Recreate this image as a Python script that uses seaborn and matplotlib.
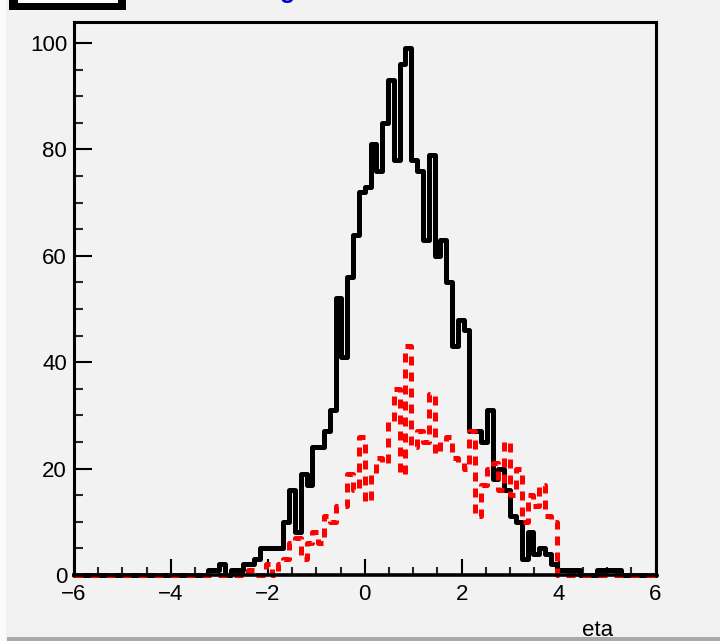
import numpy as np
import pandas as pd
import matplotlib
matplotlib.use("Agg")
import matplotlib.pyplot as plt
from matplotlib.patches import Rectangle
from matplotlib.ticker import MultipleLocator
import seaborn as sns

# ---- data: 100 bins from -6 to 6 ----
bin_edges = np.linspace(-6, 6, 101)
bin_centers = 0.5 * (bin_edges[:-1] + bin_edges[1:])

# black (solid) histogram counts, bins 0..99
black_counts = [0] * 23 + [
    1, 1, 2, 0, 1, 1, 2, 2, 3, 5,          # 23-32
    5, 5, 5, 10, 16, 8, 19, 17, 24, 24,    # 33-42
    27, 31, 52, 41, 56, 64, 72, 73, 81, 76,  # 43-52
    85, 93, 78, 96, 99, 78, 76, 63, 79, 60,  # 53-62
    63, 55, 43, 48, 46, 27, 27, 25, 31, 18,  # 63-72
    20, 16, 11, 10, 3, 8, 4, 5, 4, 2,      # 73-82
    1, 1, 1, 1, 0, 0, 0, 1, 1, 1,          # 83-92
    1, 0, 0, 0, 0, 0, 0,                   # 93-99
]

# red (dashed) histogram counts, bins 0..99
red_counts = [0] * 30 + [
    1, 0, 0, 2, 0, 2, 3, 6, 7, 3,          # 30-39
    6, 8, 6, 11, 10, 13, 13, 19, 16, 26,   # 40-49
    14, 19, 22, 21, 29, 35, 19, 43, 24, 27,  # 50-59
    25, 34, 23, 25, 26, 22, 21, 20, 27, 11,  # 60-69
    17, 20, 21, 16, 25, 15, 20, 10, 15, 13,  # 70-79
    17, 11, 10,                            # 80-82
] + [0] * 17

x_ticks = [-6, -4, -2, 0, 2, 4, 6]
y_ticks = [0, 20, 40, 60, 80, 100]
x_title = "eta"

df = pd.DataFrame({"eta": bin_centers, "black": black_counts, "red": red_counts})

# ---- style ----
sns.set_style("white")
plt.rcParams["font.family"] = ["Liberation Sans", "DejaVu Sans"]

W, H = 720, 641
bg = "#f2f2f2"
fig = plt.figure(figsize=(W / 100, H / 100), dpi=100)
fig.patch.set_facecolor(bg)

left, right, top, bottom = 74, 655.5, 22, 575
ax = fig.add_axes([left / W, 1 - bottom / H, (right - left) / W, (bottom - top) / H])
ax.set_facecolor(bg)

edges_list = [float(e) for e in bin_edges]
sns.histplot(data=df, x="eta", weights="black", bins=edges_list, element="step",
             fill=False, color="black", linewidth=3.6, ax=ax, clip_on=False)
sns.histplot(data=df, x="eta", weights="red", bins=edges_list, element="step",
             fill=False, color="#ff0000", linewidth=3.6, linestyle="--",
             dashes=(1.8, 1.4), ax=ax, clip_on=False)

ax.set_xlim(-6, 6)
ax.set_ylim(0, 103.95)
ax.set_xlabel("")
ax.set_ylabel("")
ax.set_xticks(x_ticks)
ax.set_yticks(y_ticks)
ax.xaxis.set_minor_locator(MultipleLocator(0.5))
ax.yaxis.set_minor_locator(MultipleLocator(5))

ax.tick_params(axis="x", which="major", direction="in", length=11.5, width=1.5,
               labelsize=16, pad=6.5, bottom=True, top=False, colors="black")
ax.tick_params(axis="x", which="minor", direction="in", length=5.8, width=1.5,
               bottom=True, top=False)
ax.tick_params(axis="y", which="major", direction="in", length=13, width=1.5,
               labelsize=16, pad=5, left=True, right=False, colors="black")
ax.tick_params(axis="y", which="minor", direction="in", length=6.5, width=1.5,
               left=True, right=False)

for side, sp in ax.spines.items():
    sp.set_visible(True)
    sp.set_color("black")
    sp.set_linewidth(2.2)
ax.spines["bottom"].set_linewidth(2.6)

# axis title just above the bottom bar
fig.text(613 / W, 4.5 / H, x_title, ha="right", va="baseline", fontsize=16, color="black")

# bottom grey bar and left light strip of the canvas window
fig.patches.append(Rectangle((7 / W, 0), 1, 4.5 / H, transform=fig.transFigure,
                             facecolor="#a9a9a9", edgecolor="none", zorder=10))
fig.patches.append(Rectangle((0, 0), 6 / W, 1, transform=fig.transFigure,
                             facecolor="#fbfbfb", edgecolor="none", zorder=10))

# clipped title box at the top-left
fig.patches.append(Rectangle((9 / W, 1 - 9.5 / H), 117 / W, 20 / H,
                             transform=fig.transFigure, facecolor="black",
                             edgecolor="none", zorder=10))
fig.patches.append(Rectangle((18 / W, 1 - 2.7 / H), 100 / W, 20 / H,
                             transform=fig.transFigure, facecolor="white",
                             edgecolor="none", zorder=11))

# descender of the clipped blue title
fig.text(288 / W, 1 + 2.0 / H, "g", ha="center", va="baseline", fontsize=18,
         color="#0000cc", fontweight="bold")

fig.savefig("out.png", dpi=100, facecolor=bg)
